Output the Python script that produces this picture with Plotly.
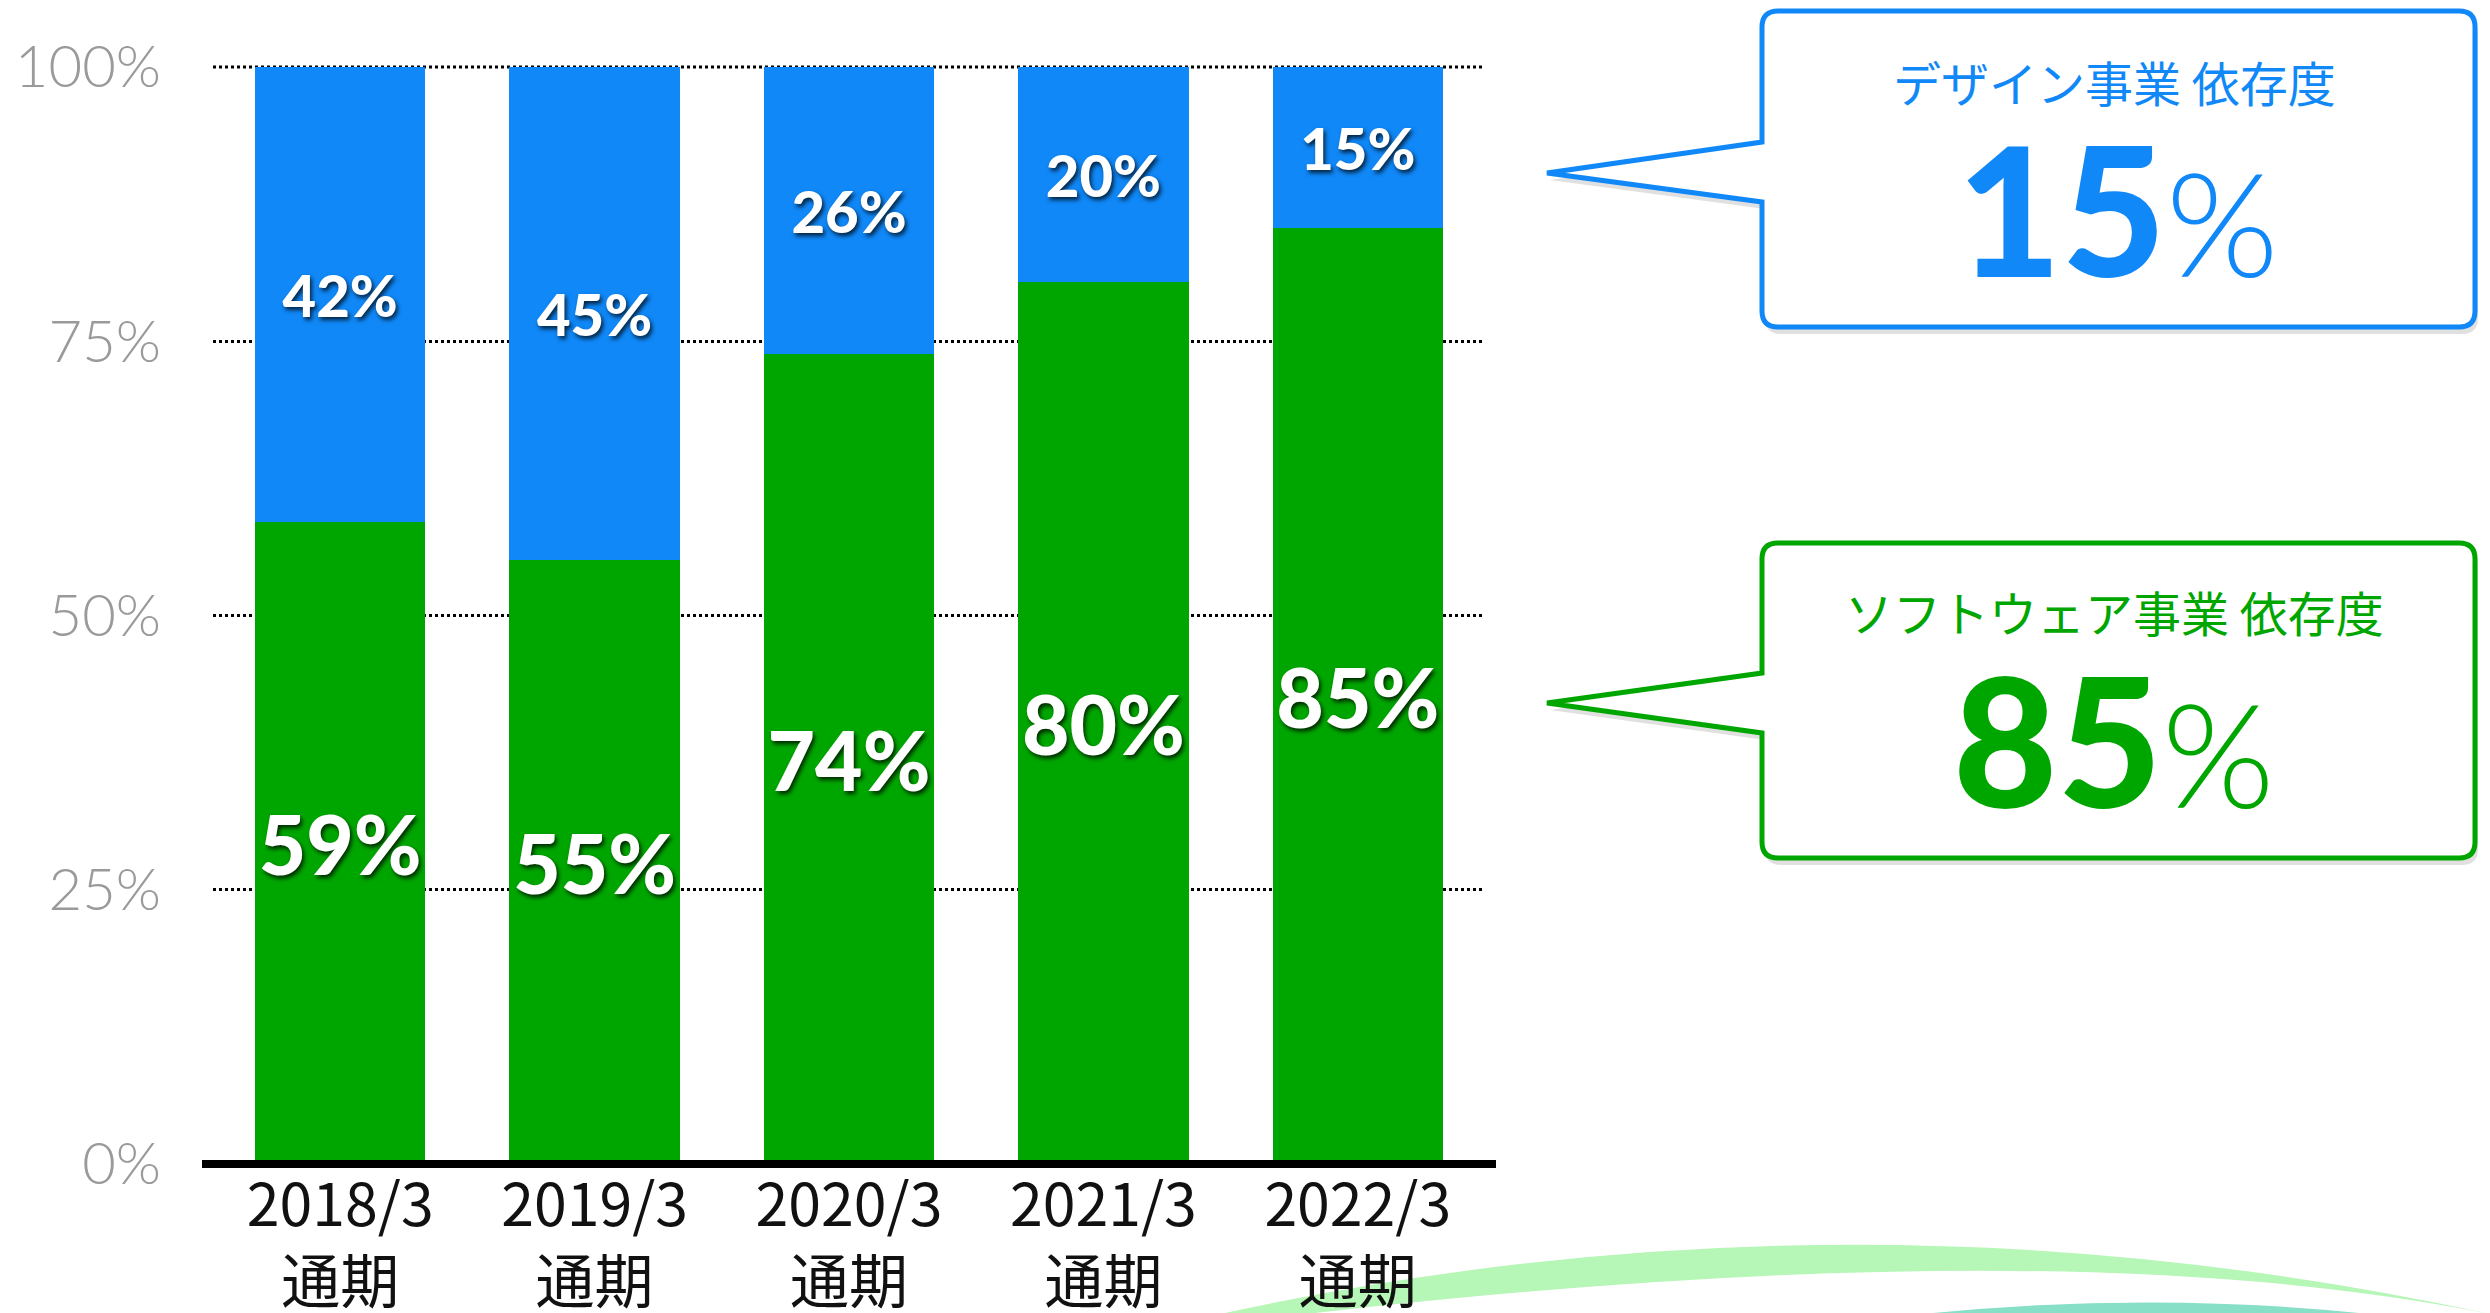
import plotly.graph_objects as go

W, H = 2490, 1313

# ---- data ----
categories = ["2018/3<br>通期", "2019/3<br>通期", "2020/3<br>通期", "2021/3<br>通期", "2022/3<br>通期"]
software_share = [58.5, 55.1, 73.8, 80.4, 85.3]
design_share = [41.5, 44.9, 26.2, 19.6, 14.7]
software_labels = ["59%", "55%", "74%", "80%", "85%"]
design_labels = ["42%", "45%", "26%", "20%", "15%"]
y_ticks = [0, 25, 50, 75, 100]
y_tick_labels = ["0%", "25%", "50%", "75%", "100%"]
design_callout_title = "デザイン事業 依存度"
design_callout_value = "15"
software_callout_title = "ソフトウェア事業 依存度"
software_callout_value = "85"

GREEN = "#00A600"
BLUE = "#1088F8"

def px(x):
    return x / W

def py(y):
    return 1 - y / H

def P(x, y):
    return f"{px(x):.5f},{py(y):.5f}"

def callout_path(L, T, R, B, r, j1, j2, tx, ty, dx=0, dy=0):
    L, R, tx = L + dx, R + dx, tx + dx
    T, B, j1, j2, ty = T + dy, B + dy, j1 + dy, j2 + dy, ty + dy
    return (
        f"M {P(L + r, T)} L {P(R - r, T)} Q {P(R, T)} {P(R, T + r)} "
        f"L {P(R, B - r)} Q {P(R, B)} {P(R - r, B)} "
        f"L {P(L + r, B)} Q {P(L, B)} {P(L, B - r)} "
        f"L {P(L, j2)} L {P(tx, ty)} L {P(L, j1)} "
        f"L {P(L, T + r)} Q {P(L, T)} {P(L + r, T)} Z"
    )

label_shadow = "2px 3px 4px rgba(0,0,0,0.75)"

fig = go.Figure()
fig.add_trace(go.Bar(
    x=categories, y=software_share, marker=dict(color=GREEN, line=dict(width=0)),
    text=software_labels, textposition="inside", insidetextanchor="middle",
    textangle=0, constraintext="none",
    textfont=dict(family="Lato", size=82, color="white", weight=900, shadow=label_shadow),
    hoverinfo="skip", showlegend=False,
))
fig.add_trace(go.Bar(
    x=categories, y=design_share, marker=dict(color=BLUE, line=dict(width=0)),
    text=design_labels, textposition="inside", insidetextanchor="middle",
    textangle=0, constraintext="none",
    textfont=dict(family="Lato", size=58, color="white", weight=900, shadow=label_shadow),
    hoverinfo="skip", showlegend=False,
))

shapes = []
# decorative swoosh at bottom right
shapes.append(dict(
    type="path", xref="paper", yref="paper", layer="below",
    path=f"M {P(1225, 1313)} Q {P(1856, 1176)} {P(2490, 1314)} Q {P(2062, 1228)} {P(1315, 1313)} Z",
    fillcolor="#b6f6b6", line=dict(width=0),
))
shapes.append(dict(
    type="path", xref="paper", yref="paper", layer="below",
    path=f"M {P(1933, 1313)} Q {P(2150, 1292)} {P(2359, 1313)} Z",
    fillcolor="#86dfc6", line=dict(width=0),
))
# top (100%) dotted gridline
shapes.append(dict(
    type="line", xref="paper", yref="paper", layer="below",
    x0=px(213), x1=px(1485), y0=py(67), y1=py(67),
    line=dict(color="black", width=3, dash="dot"),
))
# callouts (shadow + box)
for (T, B, j1, j2, ty, col) in [(11, 327, 142, 202, 173, BLUE), (543, 858, 673, 733, 703, GREEN)]:
    shapes.append(dict(
        type="path", xref="paper", yref="paper", layer="below",
        path=callout_path(1762, T, 2475, B, 16, j1, j2, 1547, ty, dx=3, dy=7),
        fillcolor="rgba(0,0,0,0.12)", line=dict(width=0),
    ))
    shapes.append(dict(
        type="path", xref="paper", yref="paper", layer="below",
        path=callout_path(1762, T, 2475, B, 16, j1, j2, 1547, ty),
        fillcolor="white", line=dict(color=col, width=5),
    ))
# baseline
shapes.append(dict(
    type="line", xref="paper", yref="paper", layer="above",
    x0=px(202), x1=px(1496), y0=py(1164), y1=py(1164),
    line=dict(color="black", width=8),
))

annotations = [
    dict(xref="paper", yref="paper", x=px(2114), y=py(81), text=design_callout_title,
         showarrow=False, xanchor="center", yanchor="middle",
         font=dict(family="Noto Sans CJK JP", size=48, color=BLUE)),
    dict(xref="paper", yref="paper", x=px(2118), y=py(207),
         text=f"<span style='font-weight:900'>{design_callout_value}</span><span style='font-size:145px'>%</span>",
         showarrow=False, xanchor="center", yanchor="middle",
         font=dict(family="Lato", size=180, color=BLUE, weight=300)),
    dict(xref="paper", yref="paper", x=px(2114), y=py(611), text=software_callout_title,
         showarrow=False, xanchor="center", yanchor="middle",
         font=dict(family="Noto Sans CJK JP", size=48, color=GREEN)),
    dict(xref="paper", yref="paper", x=px(2114), y=py(738),
         text=f"<span style='font-weight:900'>{software_callout_value}</span><span style='font-size:145px'>%</span>",
         showarrow=False, xanchor="center", yanchor="middle",
         font=dict(family="Lato", size=180, color=GREEN, weight=300)),
]

fig.update_layout(
    width=W, height=H, autosize=False,
    margin=dict(l=0, r=0, t=0, b=0),
    paper_bgcolor="white", plot_bgcolor="white",
    barmode="stack", bargap=0.33,
    shapes=shapes, annotations=annotations,
    xaxis=dict(
        domain=[px(213), px(1485)], type="category", range=[-0.5, 4.5],
        showgrid=False, showline=False, zeroline=False, ticks="",
        tickfont=dict(family="Noto Sans CJK JP", size=59, color="#111111"),
        ticklabelstandoff=2, automargin=False, fixedrange=True,
    ),
    yaxis=dict(
        domain=[1 - 1164 / H, 1 - 67 / H], range=[0, 100],
        tickvals=y_ticks, ticktext=y_tick_labels,
        showgrid=True, gridcolor="black", griddash="dot", gridwidth=3,
        zeroline=False, showline=False, ticks="",
        tickfont=dict(family="Lato", size=58, color="#9a9a9a", weight=300),
        ticklabelstandoff=51, automargin=False, fixedrange=True,
    ),
)

fig.write_html("out.html", config={"displayModeBar": False},
               post_script="document.body.style.margin='0';")
